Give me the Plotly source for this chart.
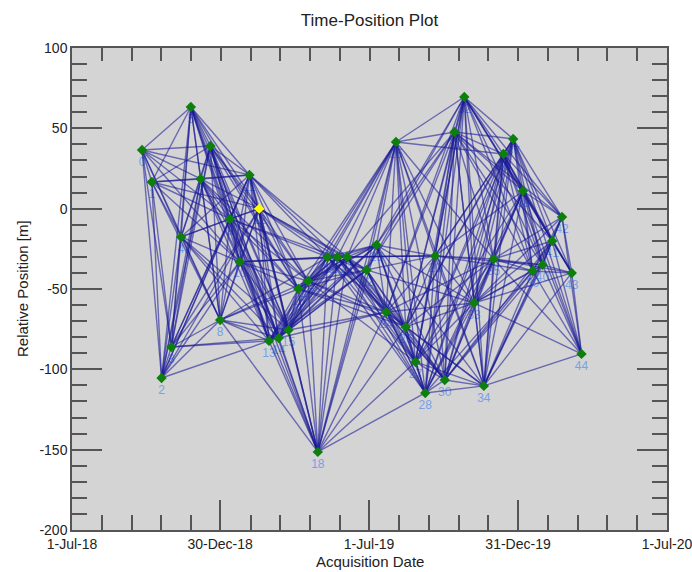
import plotly.graph_objects as go
import pandas as pd

# Acquisition dates (read from the x positions of the points)
acq_dates = [
    "2018-09-25", "2018-10-07", "2018-10-19", "2018-10-31", "2018-11-12",
    "2018-11-24", "2018-12-06", "2018-12-18", "2018-12-30", "2019-01-11",
    "2019-01-23", "2019-02-04", "2019-02-16", "2019-02-28", "2019-03-12",
    "2019-03-24", "2019-04-05", "2019-04-17", "2019-04-29", "2019-05-11",
    "2019-05-23", "2019-06-04", "2019-06-28", "2019-07-10", "2019-07-22",
    "2019-08-03", "2019-08-15", "2019-08-27", "2019-09-08", "2019-09-20",
    "2019-10-02", "2019-10-14", "2019-10-26", "2019-11-07", "2019-11-19",
    "2019-12-01", "2019-12-13", "2019-12-25", "2020-01-06", "2020-01-18",
    "2020-01-30", "2020-02-11", "2020-02-23", "2020-03-06", "2020-03-18",
]
# Relative position [m]
rel_pos = [
    36.5, 16.6, -105.4, -86.1, -17.6,
    63.3, 18.5, 39.0, -69.3, -6.4,
    -33.1, 21.0, 0.0, -82.3, -80.5,
    -75.5, -50.0, -45.0, -151.4, -30.1,
    -30.1, -30.1, -38.1, -22.6, -64.3,
    41.5, -73.6, -95.4, -114.7, -29.4,
    -106.6, 47.7, 69.5, -58.7, -110.3,
    -31.3, 34.0, 43.4, 11.0, -38.8,
    -35.0, -20.1, -5.2, -40.0, -90.4,
]
# Last acquisition index each acquisition is paired with (interferogram links)
link_until = [
    11, 12, 13, 14, 15, 16, 17, 18, 19, 20,
    21, 21, 22, 23, 24, 25, 26, 27, 28, 29,
    30, 31, 33, 34, 35, 36, 37, 38, 39, 40,
    41, 42, 43, 44, 44, 44, 44, 44, 44, 44,
    44, 44, 44, 44, 44,
]
reference_index = 12
point_labels = [str(i) for i in range(len(acq_dates))]

tick_vals = ["2018-07-01", "2018-12-30", "2019-07-01", "2019-12-31", "2020-07-01"]
tick_text = ["1-Jul-18", "30-Dec-18", "1-Jul-19", "31-Dec-19", "1-Jul-20"]
y_tick_vals = [100, 50, 0, -50, -100, -150, -200]
y_tick_text = ["100", "50", "0", "-50", "-100", "-150", "-200"]

# minor ticks: 4 between each pair of major ticks
t0 = pd.Timestamp("2018-07-01")
span = (pd.Timestamp("2020-07-01") - t0) / 20
all_ticks = [(t0 + k * span).strftime("%Y-%m-%d %H:%M") for k in range(21)]
minor_ticks = [all_ticks[k] for k in range(21) if k % 5 != 0]
top_ticks = all_ticks[1:-1]
x_range = ["2018-06-30 23:00", "2020-07-01 01:00"]

ex, ey = [], []
for i in range(len(acq_dates)):
    for j in range(i + 1, link_until[i] + 1):
        ex += [acq_dates[i], acq_dates[j], None]
        ey += [rel_pos[i], rel_pos[j], None]

font = "Liberation Sans, Arial, sans-serif"
fig = go.Figure()

# labels (under the lines); invisible markers give the text its offset
fig.add_trace(go.Scatter(
    x=acq_dates, y=rel_pos, mode="markers+text", text=point_labels,
    textposition="bottom center",
    marker=dict(size=9, opacity=0),
    textfont=dict(family=font, size=12, color="#78a0e8"),
    hoverinfo="skip", showlegend=False))

fig.add_trace(go.Scatter(
    x=ex, y=ey, mode="lines",
    line=dict(color="rgba(25,25,150,0.58)", width=1.4),
    hoverinfo="skip", showlegend=False))

others = [i for i in range(len(acq_dates)) if i != reference_index]
fig.add_trace(go.Scatter(
    x=[acq_dates[i] for i in others], y=[rel_pos[i] for i in others],
    mode="markers",
    marker=dict(symbol="diamond", size=8, color="#0c7f0c"),
    showlegend=False))
fig.add_trace(go.Scatter(
    x=[acq_dates[reference_index]], y=[rel_pos[reference_index]],
    mode="markers",
    marker=dict(symbol="diamond", size=8, color="#ffff00"),
    showlegend=False))

# dummy trace for the top tick axis
fig.add_trace(go.Scatter(x=[all_ticks[0]], y=[-500], xaxis="x2", mode="markers",
                         marker=dict(opacity=0), hoverinfo="skip", showlegend=False))

axis_col = "#555555"
fig.update_layout(
    width=692, height=572,
    margin=dict(l=72, r=25, t=48, b=42, autoexpand=False),
    paper_bgcolor="white", plot_bgcolor="#d4d4d4",
    title=dict(text="Time-Position Plot", x=0.5, xref="paper", y=0.965, yref="container",
               xanchor="center", yanchor="middle",
               font=dict(family=font, size=17, color="#222")),
    font=dict(family=font, size=14, color="#222"),
    xaxis=dict(
        type="date", range=x_range, automargin=False, ticklabeloverflow="allow",
        tickmode="array", tickvals=tick_vals, ticktext=tick_text,
        ticks="inside", ticklen=30, tickwidth=1.5, tickcolor=axis_col,
        minor=dict(tickmode="array", tickvals=minor_ticks, ticks="inside",
                   ticklen=15, tickwidth=1.5, tickcolor=axis_col, showgrid=False),
        showline=True, linecolor=axis_col, linewidth=1.5, mirror=True,
        showgrid=False, zeroline=False,
        tickfont=dict(family=font, size=14, color="#222"),
    ),
    xaxis2=dict(
        type="date", range=x_range, overlaying="x", side="top", automargin=False,
        tickmode="array", tickvals=top_ticks, ticks="inside", ticklen=13,
        tickwidth=1.5, tickcolor=axis_col, showticklabels=False,
        showgrid=False, zeroline=False, showline=False,
    ),
    yaxis=dict(
        range=[-200, 100], tickmode="array", tickvals=y_tick_vals, ticktext=y_tick_text,
        automargin=False, ticklabeloverflow="allow",
        ticks="inside", ticklen=30, tickwidth=1.5, tickcolor=axis_col,
        minor=dict(tickmode="linear", tick0=0, dtick=10, ticks="inside", ticklen=15,
                   tickwidth=1.5, tickcolor=axis_col, showgrid=False),
        showline=True, linecolor=axis_col, linewidth=1.5, mirror="ticks",
        showgrid=False, zeroline=False,
        tickfont=dict(family=font, size=14, color="#222"),
    ),
    annotations=[
        dict(text="Relative Position [m]", xref="paper", yref="paper",
             x=-0.084, y=0.5, xanchor="center", yanchor="middle", textangle=-90,
             showarrow=False, font=dict(family=font, size=15, color="#222")),
        dict(text="Acquisition Date", xref="paper", yref="paper",
             x=0.5, y=-0.066, xanchor="center", yanchor="middle",
             showarrow=False, font=dict(family=font, size=15, color="#222")),
    ],
)

fig.write_html("out.html", config={"displayModeBar": False},
               post_script="document.body.style.margin='0';document.body.style.padding='0';"
                           "document.body.style.overflow='hidden';")
